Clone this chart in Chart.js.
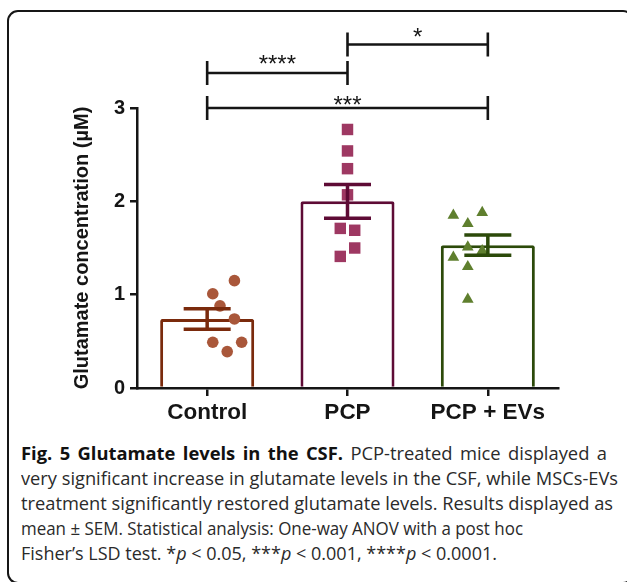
<!DOCTYPE html>
<html><head><meta charset="utf-8">
<script src="https://cdn.jsdelivr.net/npm/chart.js@4"></script>
<style>
html,body{margin:0;padding:0;background:#fff;width:627px;height:582px;overflow:hidden;position:relative}
#frame{position:absolute;left:7px;top:10px;width:627px;height:574px;border:2px solid #161616;border-radius:11px;box-sizing:border-box}
#chartBox{position:absolute;left:0;top:0;width:627px;height:430px}
.ln{position:absolute;left:21px;white-space:nowrap;font-family:"Open Sans",Lato,sans-serif;font-size:18.5px;line-height:25px;height:25px;color:#2a2a2a;transform-origin:0 50%}
.ln b{color:#111}
</style></head><body>
<div id="frame"></div>
<div id="chartBox"><canvas id="c" width="627" height="430"></canvas></div>
<div class="ln" id="l1" style="top:439.5px"><b>Fig. 5 Glutamate levels in the CSF.</b> PCP-treated mice displayed a</div>
<div class="ln" id="l2" style="top:464.5px">very significant increase in glutamate levels in the CSF, while MSCs-EVs</div>
<div class="ln" id="l3" style="top:489.5px">treatment significantly restored glutamate levels. Results displayed as</div>
<div class="ln" id="l4" style="top:514.5px">mean ± SEM. Statistical analysis: One-way ANOV with a post hoc</div>
<div class="ln" id="l5" style="top:539.5px">Fisher’s LSD test. *<i>p</i> &lt; 0.05, ***<i>p</i> &lt; 0.001, ****<i>p</i> &lt; 0.0001.</div>
<script>
// ---- data ----
const categories = ['Control', 'PCP', 'PCP + EVs'];
const means = [0.74, 2.0, 1.53];
const sems = [0.11, 0.18, 0.108];
const controlValues = [1.15, 1.01, 0.88, 0.74, 0.49, 0.49, 0.39];
const controlJitter = [0.06, -0.12, -0.06, 0.06, -0.12, 0.12, 0];
const pcpValues = [2.77, 2.54, 2.35, 2.07, 1.71, 1.69, 1.50, 1.41];
const pcpJitter = [0, 0, 0, 0, -0.06, 0.06, 0.06, -0.06];
const evValues = [1.85, 1.88, 1.76, 1.40, 1.51, 1.47, 1.30, 0.95];
const evJitter = [-0.12, 0.12, 0, -0.12, 0, 0.12, 0, 0];
const yTicks = [0, 1, 2, 3];
const yTitle = 'Glutamate concentration (µM)';
const compFrom = [0, 1, 0];
const compTo = [1, 2, 2];
const compLabels = ['****', '*', '***'];
const compLevels = [3.375, 3.68, 3.0];

// ---- styles ----
const barColors = ['#7a2a0c', '#5e0b35', '#2c4a0a'];
const pointColors = ['#a9573a', '#9e3862', '#5f7f2e'];
const AX = '#151515';
const FONT = '"Liberation Sans", Arial, sans-serif';
const labelBaselineShift = [-1, 0.5, 5];

function pts(vals, jit, idx) { return vals.map((v, i) => ({ x: idx + jit[i], y: v })); }

const errorBars = {
  id: 'errorBars',
  afterDatasetsDraw(chart) {
    const { ctx } = chart; const xs = chart.scales.x, ys = chart.scales.y;
    ctx.save(); ctx.lineWidth = 3.5; ctx.lineCap = 'butt';
    means.forEach((m, i) => {
      const cx = xs.getPixelForValue(i);
      const t = ys.getPixelForValue(m + sems[i]), b = ys.getPixelForValue(m - sems[i]);
      ctx.strokeStyle = barColors[i];
      ctx.beginPath();
      ctx.moveTo(cx, t); ctx.lineTo(cx, b);
      ctx.moveTo(cx - 23.5, t); ctx.lineTo(cx + 23.5, t);
      ctx.moveTo(cx - 23.5, b); ctx.lineTo(cx + 23.5, b);
      ctx.stroke();
    });
    ctx.restore();
  }
};
const brackets = {
  id: 'brackets',
  afterDraw(chart) {
    const { ctx } = chart; const xs = chart.scales.x, ys = chart.scales.y;
    ctx.save(); ctx.strokeStyle = AX; ctx.fillStyle = AX; ctx.lineWidth = 2.6;
    ctx.font = '24px ' + FONT; ctx.textAlign = 'center'; ctx.textBaseline = 'alphabetic';
    compLabels.forEach((lab, i) => {
      const x1 = xs.getPixelForValue(compFrom[i]), x2 = xs.getPixelForValue(compTo[i]);
      const y = ys.getPixelForValue(compLevels[i]);
      ctx.beginPath();
      ctx.moveTo(x1, y); ctx.lineTo(x2, y);
      ctx.moveTo(x1, y - 12); ctx.lineTo(x1, y + 12);
      ctx.moveTo(x2, y - 12); ctx.lineTo(x2, y + 12);
      ctx.stroke();
      ctx.fillText(lab, (x1 + x2) / 2, y + labelBaselineShift[i]);
    });
    ctx.restore();
  }
};

new Chart(document.getElementById('c'), {
  type: 'bar',
  data: {
    labels: categories,
    datasets: [
      { type: 'bar', data: means, backgroundColor: '#ffffff', borderColor: barColors, borderWidth: 3,
        borderSkipped: 'start', borderRadius: 2, barPercentage: 0.67, categoryPercentage: 1,
        grouped: false, order: 3 },
      { type: 'scatter', xAxisID: 'x2', data: pts(controlValues, controlJitter, 0), pointStyle: 'circle',
        pointRadius: 5.8, backgroundColor: pointColors[0], borderWidth: 0, order: 1 },
      { type: 'scatter', xAxisID: 'x2', data: pts(pcpValues, pcpJitter, 1), pointStyle: 'rect',
        pointRadius: 8.1, backgroundColor: pointColors[1], borderWidth: 0, order: 1 },
      { type: 'scatter', xAxisID: 'x2', data: pts(evValues, evJitter, 2), pointStyle: 'triangle',
        pointRadius: 6.75, backgroundColor: pointColors[2], borderWidth: 0, order: 1 }
    ]
  },
  options: {
    responsive: false, animation: false, devicePixelRatio: 1,
    events: [],
    layout: { padding: { left: 0, top: 108, right: 69, bottom: 0 } },
    plugins: { legend: { display: false }, tooltip: { enabled: false } },
    scales: {
      x: {
        type: 'category', offset: true,
        grid: { offset: false, drawOnChartArea: false, tickLength: 8, lineWidth: 2.5, color: AX },
        border: { color: AX, width: 2.5 },
        ticks: { color: AX, padding: 3, font: { family: FONT, size: 22.5, weight: 'bold' } },
        afterFit(s) { s.height = 42; }
      },
      x2: { type: 'linear', display: false, min: -0.5, max: 2.5 },
      y: {
        min: 0, max: 3,
        grid: { drawOnChartArea: false, tickLength: 7, lineWidth: 2.5, color: AX },
        border: { color: AX, width: 2.5 },
        ticks: { color: AX, padding: 5, font: { family: FONT, size: 20, weight: 'bold' } },
        afterBuildTicks(s) { s.ticks = yTicks.map(v => ({ value: v })); },
        title: { display: true, text: yTitle, color: AX, padding: { top: 70, bottom: 0 },
          font: { family: FONT, size: 20, weight: 'bold' } },
        afterFit(s) { s.width = 137; }
      }
    }
  },
  plugins: [errorBars, brackets]
});

// caption fit: each line scaled to its own right edge; full lines get a little word spacing
const rightEdges = { l1: 607, l2: 618, l3: 613, l4: 523, l5: 497 };
function fit() {
  const ids = Object.keys(rightEdges);
  const w = {};
  ids.forEach(id => { const el = document.getElementById(id); el.style.transform = 'none'; el.style.wordSpacing = '0px'; w[id] = el.getBoundingClientRect().width; });
  const base = ((rightEdges.l4 - 21) / w.l4 + (rightEdges.l5 - 21) / w.l5) / 2;
  ids.forEach(id => {
    const el = document.getElementById(id);
    const target = rightEdges[id] - 21;
    let s = target / w[id];
    if (id === 'l1' || id === 'l2' || id === 'l3') {
      s = Math.min(s, base * 1.05);
      const spaces = (el.textContent.match(/ /g) || []).length;
      const extra = (target / s - w[id]) / spaces;
      el.style.wordSpacing = Math.max(0, extra) + 'px';
    }
    el.style.transform = 'scaleX(' + s + ')';
  });
}
fit();
if (document.fonts && document.fonts.ready) document.fonts.ready.then(fit);
</script>
</body></html>
